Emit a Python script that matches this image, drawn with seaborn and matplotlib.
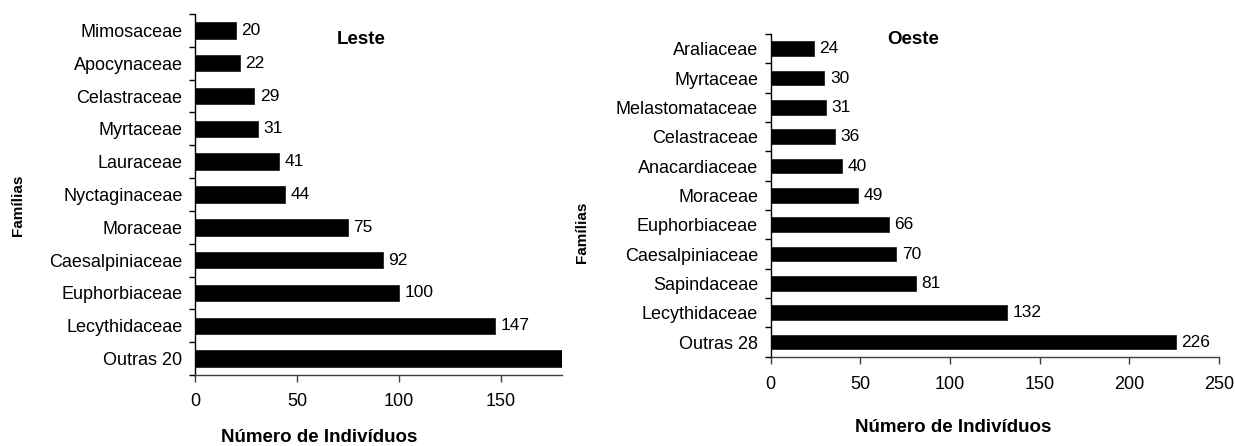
import matplotlib
matplotlib.use("Agg")
import matplotlib.pyplot as plt
import numpy as np
import pandas as pd
import seaborn as sns

# Families and number of individuals, eastern ("Leste") sector
leste_familias = ["Mimosaceae", "Apocynaceae", "Celastraceae", "Myrtaceae",
                  "Lauraceae", "Nyctaginaceae", "Moraceae", "Caesalpiniaceae",
                  "Euphorbiaceae", "Lecythidaceae", "Outras 20"]
leste_valores = [20, 22, 29, 31, 41, 44, 75, 92, 100, 147, 186]
leste_ticks = [0, 50, 100, 150]
leste_xmax = 180

# Families and number of individuals, western ("Oeste") sector
oeste_familias = ["Araliaceae", "Myrtaceae", "Melastomataceae", "Celastraceae",
                  "Anacardiaceae", "Moraceae", "Euphorbiaceae", "Caesalpiniaceae",
                  "Sapindaceae", "Lecythidaceae", "Outras 28"]
oeste_valores = [24, 30, 31, 36, 40, 49, 66, 70, 81, 132, 226]
oeste_ticks = [0, 50, 100, 150, 200, 250]
oeste_xmax = 250

sns.set_style("white")
plt.rcParams["font.family"] = ["Liberation Sans", "DejaVu Sans"]
plt.rcParams["text.color"] = "black"
plt.rcParams["xtick.color"] = "black"
plt.rcParams["ytick.color"] = "black"
plt.rcParams["axes.labelcolor"] = "black"

W, H = 1235, 446
fig = plt.figure(figsize=(W / 100, H / 100), dpi=100)


def px_axes(x0, x1, y0, y1):
    return fig.add_axes([x0 / W, 1 - y1 / H, (x1 - x0) / W, (y1 - y0) / H])


def draw_panel(ax, familias, valores, ticks, xmax, tick_pad):
    df = pd.DataFrame({"familia": familias, "n": valores})
    sns.barplot(data=df, y="familia", x="n", orient="h", color="black",
                width=0.5, edgecolor="#222222", linewidth=0.6,
                saturation=1, ax=ax)
    n = len(familias)
    ax.set_xlim(0, xmax)
    ax.set_ylim(n - 0.5, -0.5)
    ax.set_xticks(ticks)
    ax.set_xticklabels([str(t) for t in ticks], fontsize=13)
    ax.set_yticks(range(n))
    ax.set_yticklabels(familias, fontsize=13)
    ax.set_yticks(np.arange(-0.5, n, 1.0), minor=True)
    ax.tick_params(axis="y", which="major", left=True, length=0, pad=9)
    ax.tick_params(axis="y", which="minor", left=True, length=4, width=1,
                   color="black", direction="out")
    ax.tick_params(axis="x", bottom=True, length=5, width=1, color="#404040",
                   direction="out", pad=tick_pad)
    ax.set_xlabel("")
    ax.set_ylabel("")
    for side in ("top", "right"):
        ax.spines[side].set_visible(False)
    ax.spines["left"].set_color("black")
    ax.spines["left"].set_linewidth(1)
    ax.spines["bottom"].set_color("#404040")
    ax.spines["bottom"].set_linewidth(1)
    labels = ax.bar_label(ax.containers[0], labels=[str(v) for v in valores],
                          padding=4, fontsize=12.5, color="black")
    for t in labels:
        t.set_clip_box(ax.bbox)
        t.set_clip_on(True)


ax1 = px_axes(195, 562, 14, 375)
draw_panel(ax1, leste_familias, leste_valores, leste_ticks, leste_xmax, 8)

ax2 = px_axes(770.5, 1219, 34, 356.7)
draw_panel(ax2, oeste_familias, oeste_valores, oeste_ticks, oeste_xmax, 9)

# Panel titles
fig.text(361 / W, 1 - 39 / H, "Leste", ha="center", va="center",
         fontsize=13.5, fontweight="bold")
fig.text(913 / W, 1 - 40 / H, "Oeste", ha="center", va="center",
         fontsize=13.5, fontweight="bold")

# Axis titles
fig.text(319 / W, 1 - 438 / H, "Número de Indivíduos", ha="center",
         va="center", fontsize=13.5, fontweight="bold")
fig.text(953 / W, 1 - 427 / H, "Número de Indivíduos", ha="center",
         va="center", fontsize=13.5, fontweight="bold")
fig.text(18 / W, 1 - 205 / H, "Famílias", ha="center", va="center",
         rotation=90, fontsize=11, fontweight="bold")
fig.text(582 / W, 1 - 232 / H, "Famílias", ha="center", va="center",
         rotation=90, fontsize=11, fontweight="bold")

fig.savefig("out.png", dpi=100, facecolor="white")
